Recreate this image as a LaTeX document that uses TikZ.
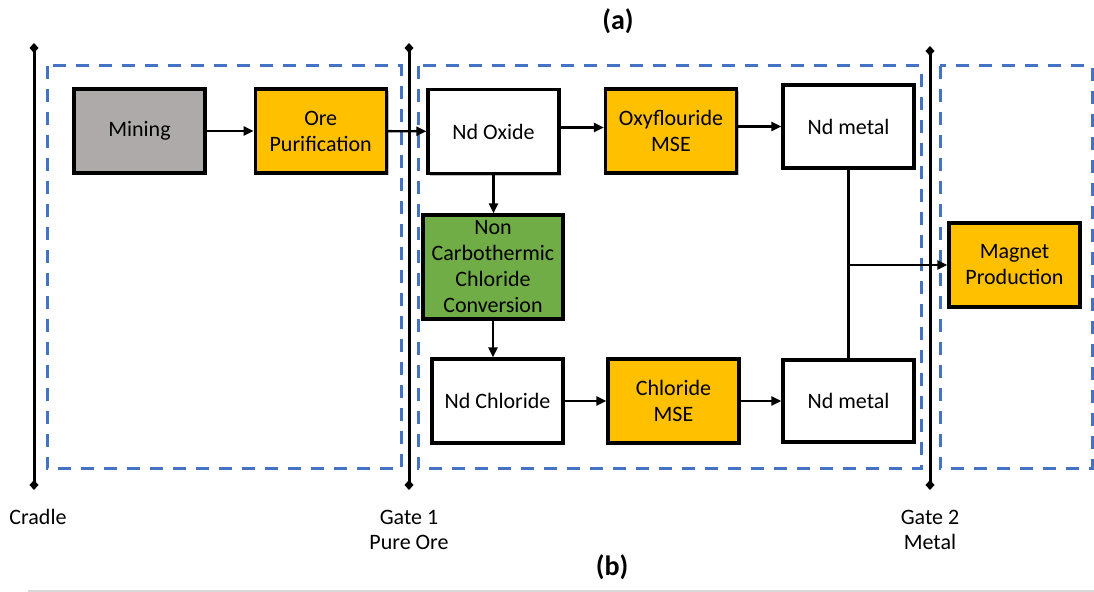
\documentclass[tikz,border=0pt]{standalone}
\usepackage{fontspec}
\setmainfont{Carlito}
\usetikzlibrary{arrows.meta,positioning,shadows}
\definecolor{oregold}{HTML}{FFC000}
\definecolor{minegray}{HTML}{AEAAAA}
\definecolor{convgreen}{HTML}{70AD47}
\definecolor{stageblue}{HTML}{4472C4}
\definecolor{rulegray}{HTML}{D9D9D9}

\begin{document}
\begin{tikzpicture}[
  x=0.5pt, y=-0.5pt,
  >={Triangle[length=5pt,width=4.5pt]},
  line width=1pt,
  proc/.style={rectangle, draw=black, line width=1.6pt, minimum width=65.5pt, minimum height=42pt, inner sep=1pt, align=center, font=\fontsize{11}{13}\selectfont, drop shadow={shadow xshift=1.2pt, shadow yshift=-1.2pt, fill=black, opacity=0.25}},
  stage/.style={draw=stageblue, line width=1.5pt, dash pattern=on 6.5pt off 5pt},
  gate/.style={{Diamond[length=5pt,width=4.5pt]}-{Diamond[length=5pt,width=4.5pt]}, line width=1.5pt},
  flow/.style={->, draw=black, line width=1.2pt},
  gatelabel/.style={align=center, font=\fontsize{11}{12.5}\selectfont},
  panel/.style={font=\fontsize{14}{16}\selectfont\bfseries}
]
  \useasboundingbox (0,0) rectangle (1094,592);
  % life cycle stages
  \draw[stage] (47,66) rectangle (401,469);
  \draw[stage] (418,66) rectangle (921,469);
  \draw[stage] (940,66) rectangle (1092,469);
  % gates
  \coordinate (cradletop) at (34,43);
  \coordinate (cradlebot) at (34,490);
  \coordinate (gateAtop) at (409,43);
  \coordinate (gateAbot) at (409,490);
  \coordinate (gateBtop) at (930,46);
  \coordinate (gateBbot) at (930,490);
  \draw[gate] (cradletop) -- (cradlebot);
  \draw[gate] (gateAtop) -- (gateAbot);
  \draw[gate] (gateBtop) -- (gateBbot);
  \node[gatelabel] (cradlelbl) at (38,517) {Cradle};
  \node[gatelabel] (gateAlbl) at (409,530) {Gate 1\\Pure Ore};
  \node[gatelabel] (gateBlbl) at (930,530) {Gate 2\\Metal};
  \node[panel] (panela) at (618,21) {(a)};
  \node[panel] (panelb) at (612,567) {(b)};
  % process steps
  \node[proc, fill=minegray] (mining) at (139.5,131) {Mining};
  \node[proc, fill=oregold, right=23.5pt of mining] (orepur) {Ore\\Purification};
  \node[proc, fill=white] (ndoxide) at (493.5,131.5) {Nd Oxide};
  \node[proc, fill=oregold] (oxymse) at (671,131) {Oxyflouride\\MSE};
  \node[proc, fill=white, minimum height=41.5pt] (metaltop) at (848.5,126.5) {Nd metal};
  \node[proc, fill=convgreen, minimum width=70pt, minimum height=52pt] (nonconv) at (493,267) {Non\\Carbothermic\\Chloride\\Conversion};
  \node[proc, fill=white] (ndchlor) at (497.5,401) {Nd Chloride};
  \node[proc, fill=oregold] (chlmse) at (673.5,401) {Chloride\\MSE};
  \node[proc, fill=white, minimum height=41pt] (metalbot) at (848.5,401) {Nd metal};
  \node[proc, fill=oregold] (magnet) at (1014.5,265) {Magnet\\Production};
  % flows
  \draw[flow] (mining) -- (orepur);
  \draw[flow] (orepur) -- (ndoxide);
  \draw[flow] ([yshift=2pt]ndoxide.east) -- ([yshift=2pt]ndoxide.east -| oxymse.west);
  \draw[flow] (oxymse.east |- metaltop) -- (metaltop);
  \draw[flow] (ndoxide) -- (ndoxide |- nonconv.north);
  \draw[flow] (nonconv) -- (nonconv |- ndchlor.north);
  \draw[flow] (ndchlor) -- (chlmse);
  \draw[flow] (chlmse) -- (metalbot);
  \draw[line width=1.2pt] (metaltop) -- (metalbot);
  \coordinate (join) at (metaltop |- magnet);
  \draw[flow] (join) -- (magnet);
  \draw[rulegray, line width=0.6pt] (28,591) -- (1094,591);
\end{tikzpicture}
\end{document}
